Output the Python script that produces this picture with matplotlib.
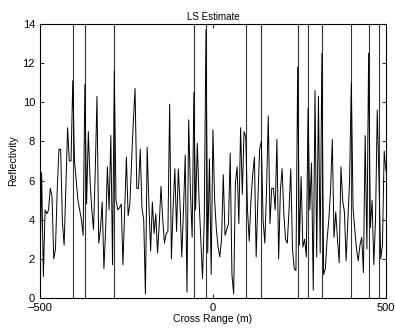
import numpy as np
import matplotlib
matplotlib.use("Agg")
import matplotlib.pyplot as plt

plt.rcParams['font.family'] = ['Liberation Sans', 'DejaVu Sans']

# cross range grid (m) and LS estimate magnitude
cross_range = np.arange(-500, 501, 5)
reflectivity = [
    1.0, 6.4, 1.1, 4.5, 4.3, 4.5, 5.6, 5.2, 2.0, 2.5,
    5.5, 7.6, 7.6, 3.9, 2.7, 5.6, 8.7, 7.0, 7.0, 11.1,
    7.0, 6.0, 5.0, 4.5, 4.0, 3.2, 10.9, 4.8, 8.5, 6.0,
    4.5, 3.5, 6.5, 10.3, 2.8, 3.5, 4.9, 1.5, 3.5, 6.7,
    4.5, 8.3, 1.7, 11.6, 5.0, 4.5, 4.6, 4.8, 1.7, 4.5,
    7.2, 4.2, 4.8, 7.0, 9.0, 10.7, 5.6, 5.6, 7.6, 4.6,
    4.0, 0.2, 7.7, 4.8, 2.4, 4.9, 3.3, 4.3, 2.3, 3.8,
    5.7, 4.0, 2.8, 3.3, 3.4, 9.9, 2.0, 4.6, 6.6, 3.4,
    6.6, 4.8, 2.1, 4.5, 7.3, 0.3, 9.1, 5.5, 3.1, 10.5,
    4.5, 7.9, 5.0, 3.0, 1.0, 4.0, 13.7, 2.3, 7.1, 1.2,
    8.6, 5.0, 3.5, 2.6, 2.1, 3.0, 6.3, 3.2, 3.5, 3.8,
    7.4, 1.2, 0.2, 5.9, 6.7, 3.8, 8.7, 5.3, 8.5, 8.2,
    4.5, 2.9, 5.0, 6.3, 7.2, 2.1, 5.0, 7.6, 8.0, 4.0,
    2.8, 5.5, 9.3, 3.8, 5.6, 5.6, 4.5, 8.1, 2.0, 5.5,
    6.6, 4.3, 3.0, 2.8, 4.5, 6.6, 2.5, 1.5, 1.4, 11.8,
    2.7, 6.2, 2.6, 3.0, 2.1, 9.7, 4.5, 6.9, 0.4, 10.6,
    2.1, 10.3, 2.3, 12.5, 1.2, 1.5, 3.0, 4.0, 5.5, 8.1,
    3.1, 4.4, 3.0, 1.8, 6.7, 5.0, 4.4, 1.9, 4.0, 6.0,
    11.0, 4.6, 3.5, 2.5, 1.9, 2.7, 3.1, 1.3, 8.3, 2.5,
    12.5, 3.6, 5.0, 1.7, 4.0, 9.6, 6.0, 2.0, 2.7, 7.5,
    6.5,
]

# strong scatterers whose estimate runs off the top of the scale
target_pos = [-405, -370, -285, -55, -20, 95, 140, 245, 275, 315, 400, 450, 480]

fig = plt.figure(figsize=(3.95, 3.32), dpi=100)
ax = fig.add_axes([0.101, 0.1024, 0.876, 0.8256])

ax.plot(cross_range, reflectivity, color='black', linewidth=0.7)
ax.vlines(target_pos, 0, 14, colors='black', linewidth=0.8, alpha=0.8)

ax.set_xlim(-500, 500)
ax.set_ylim(0, 14)
ax.set_xticks([-500, 0, 500])
ax.set_yticks(np.arange(0, 15, 2))
ax.tick_params(direction='in', top=True, right=True, labelsize=8, length=3, width=0.6)
for s in ax.spines.values():
    s.set_linewidth(0.8)

ax.set_title('LS Estimate', fontsize=7, pad=3)
ax.set_xlabel('Cross Range (m)', fontsize=7.5, labelpad=1)
ax.set_ylabel('Reflectivity', fontsize=7.5, labelpad=3)

fig.savefig('out.png', dpi=100)
